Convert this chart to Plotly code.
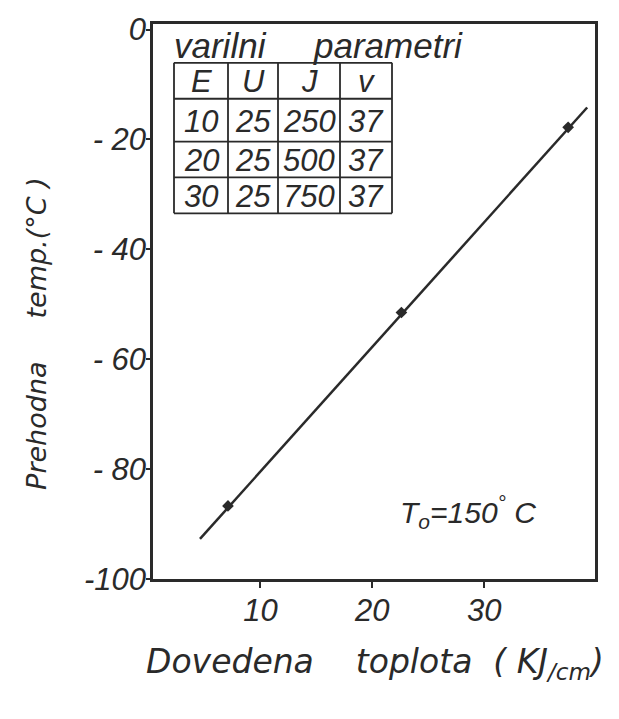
import plotly.graph_objects as go

# ---- data ----
heat_pts = [7.1, 22.6, 37.5]          # KJ/cm
temp_pts = [-86.7, -51.5, -17.8]      # °C
fit_x = [4.6, 39.2]
fit_y = [-92.7, -14.2]

x_ticks = [10, 20, 30]
y_ticks = [0, -20, -40, -60, -80, -100]
y_ticktext = ["0", "- 20", "- 40", "- 60", "- 80", "-100"]

table_header = ["E", "U", "J", "v"]
table_rows = [["10", "25", "250", "37"],
              ["20", "25", "500", "37"],
              ["30", "25", "750", "37"]]

W, H = 619, 719
L, R, T, B = 153, 24, 22, 140
NARROW = "Liberation Sans, Arial, sans-serif"
INK = "#2a2a2a"

def px(x):
    return (x - L) / (W - L - R)

def py(y):
    return (H - B - y) / (H - T - B)

fig = go.Figure()
fig.add_trace(go.Scatter(x=fit_x, y=fit_y, mode="lines",
                         line=dict(color=INK, width=2.5), showlegend=False))
fig.add_trace(go.Scatter(x=heat_pts, y=temp_pts, mode="markers",
                         marker=dict(color=INK, size=9, symbol="diamond"),
                         showlegend=False))

shapes = []
ann = []

# table grid
col_edges = [174, 228, 278, 340, 392]
row_edges = [61, 97, 140, 176, 212]
for xe in col_edges:
    shapes.append(dict(type="line", xref="paper", yref="paper",
                       x0=px(xe), x1=px(xe), y0=py(row_edges[0]), y1=py(row_edges[-1]),
                       line=dict(color=INK, width=1.8)))
for ye in row_edges:
    shapes.append(dict(type="line", xref="paper", yref="paper",
                       x0=px(col_edges[0]), x1=px(col_edges[-1]), y0=py(ye), y1=py(ye),
                       line=dict(color=INK, width=1.8)))

all_rows = [table_header] + table_rows
for r, row in enumerate(all_rows):
    yc = (row_edges[r] + row_edges[r + 1]) / 2 + 1
    for c, val in enumerate(row):
        xc = (col_edges[c] + col_edges[c + 1]) / 2
        ann.append(dict(text=val, xref="paper", yref="paper", x=px(xc), y=py(yc),
                        showarrow=False, xanchor="center", yanchor="middle",
                        font=dict(family=NARROW, size=31, color=INK, style="italic")))

ann.append(dict(text="varilni&nbsp;&nbsp;&nbsp;&nbsp;&nbsp;parametri", xref="paper", yref="paper",
                x=px(172), y=py(44), xanchor="left", yanchor="middle", showarrow=False,
                font=dict(family=NARROW, size=35, color=INK, style="italic")))

ann.append(dict(text="T<sub>o</sub>=150<sup>°</sup> C", xref="paper", yref="paper",
                x=px(398), y=py(512), xanchor="left", yanchor="middle", showarrow=False,
                font=dict(family=NARROW, size=30, color=INK, style="italic")))

# axis titles
ann.append(dict(text="Prehodna&nbsp;&nbsp;&nbsp;&nbsp;&nbsp;temp.(°C )", xref="paper", yref="paper",
                x=px(37), y=py(333), xanchor="center", yanchor="middle", showarrow=False,
                textangle=-90,
                font=dict(family="DejaVu Sans, sans-serif", size=27, color=INK, style="italic")))
ann.append(dict(text="Dovedena&nbsp;&nbsp;&nbsp;&nbsp;toplota&nbsp;&nbsp;( KJ<sub>/cm</sub>)", xref="paper", yref="paper",
                x=px(375), y=py(664), xanchor="center", yanchor="middle", showarrow=False,
                font=dict(family="DejaVu Sans, sans-serif", size=33, color=INK, style="italic")))

fig.update_layout(
    width=W, height=H,
    margin=dict(l=L, r=R, t=T, b=B),
    paper_bgcolor="white", plot_bgcolor="white",
    shapes=shapes, annotations=ann,
    xaxis=dict(range=[0.4, 39.9], tickvals=x_ticks, ticktext=[str(v) for v in x_ticks],
               ticks="outside", ticklen=6, tickwidth=2, tickcolor=INK,
               ticklabelstandoff=-4,
               showline=True, linecolor=INK, linewidth=2.5, mirror=True,
               showgrid=False, zeroline=False,
               tickfont=dict(family=NARROW, size=31, color=INK, style="italic")),
    yaxis=dict(range=[-100, 1], tickvals=y_ticks, ticktext=y_ticktext,
               ticks="outside", ticklen=4, tickwidth=2, tickcolor=INK,
               ticklabelstandoff=-6,
               showline=True, linecolor=INK, linewidth=2.5, mirror=True,
               showgrid=False, zeroline=False,
               tickfont=dict(family=NARROW, size=31, color=INK, style="italic")),
)

fig.write_html("out.html")
